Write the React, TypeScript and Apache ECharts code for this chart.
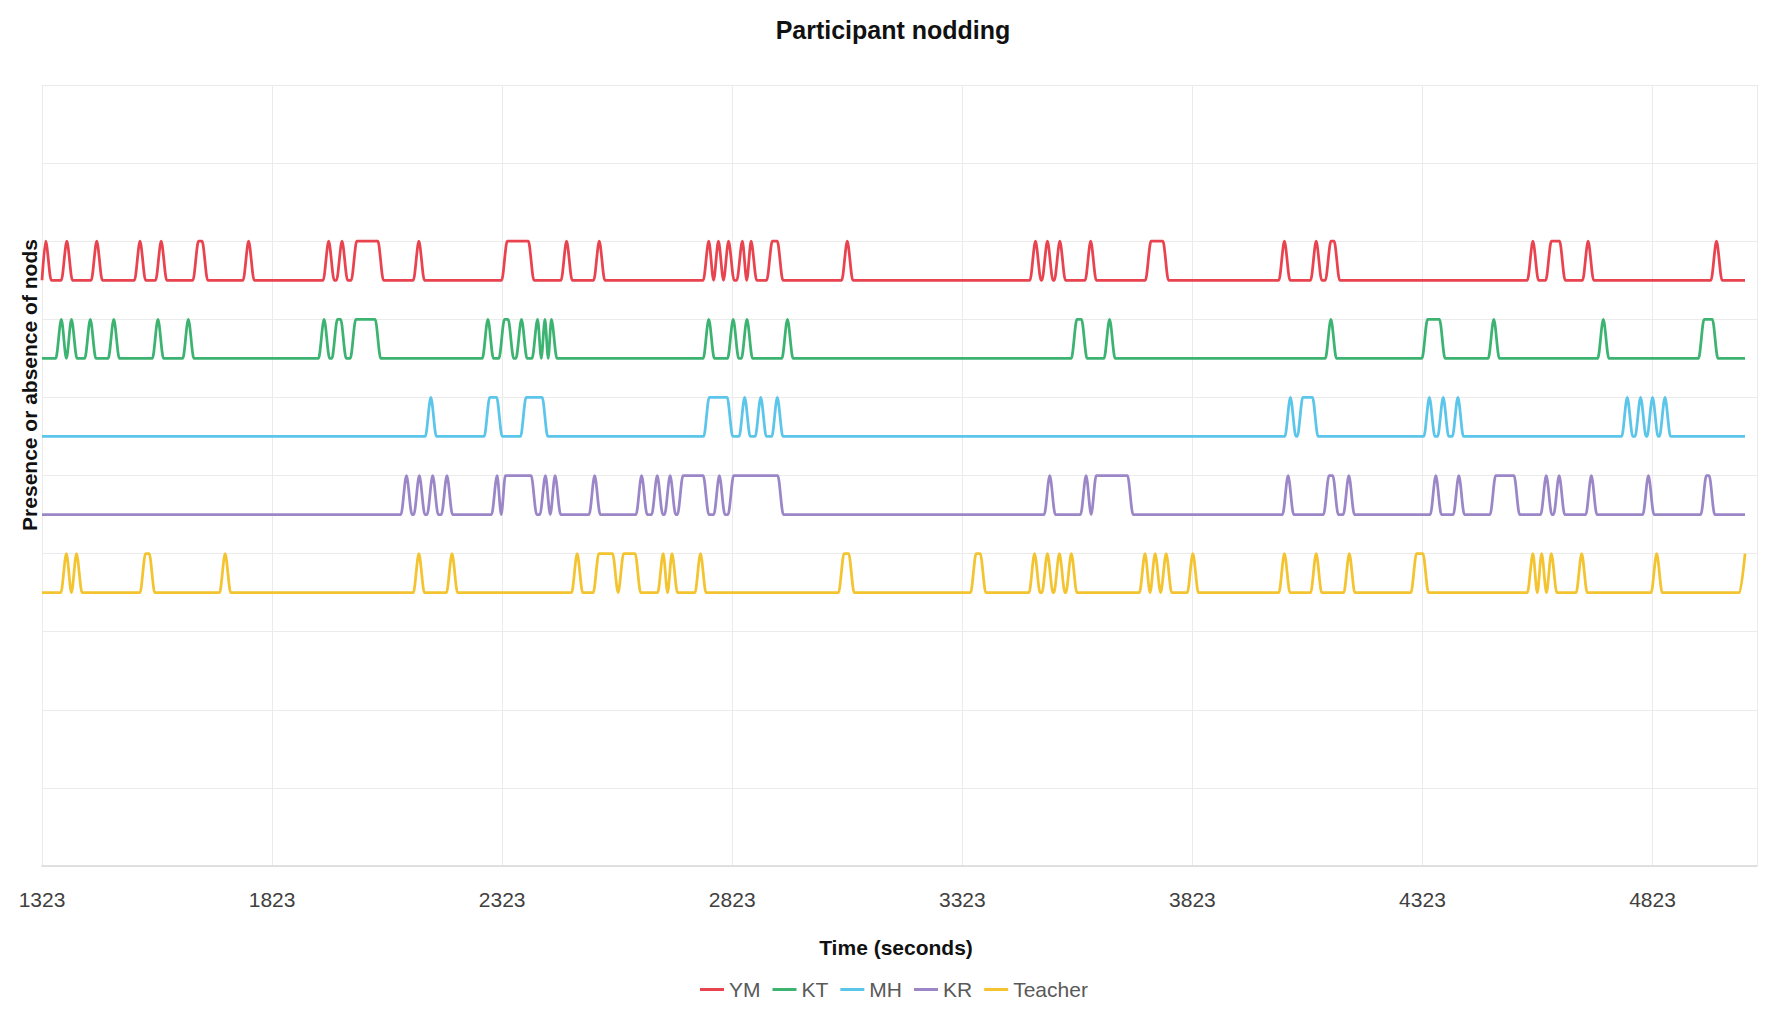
import React, { useEffect, useRef } from "react";
import * as echarts from "echarts";

// ---- data ----
const START = 1323; // first time on the axis (seconds)
const END = 5024; // last recorded time (seconds)
const AXIS_MAX = 5050;
const TICK_STEP = 500;
const tickLabels = ["1323", "1823", "2323", "2823", "3323", "3823", "4323", "4823"];

const seriesNames = ["YM", "KT", "MH", "KR", "Teacher"];
const seriesColors = ["#E8434F", "#3CB371", "#5BC5EA", "#9B86C8", "#F4C430"];
// baseline level of each participant's trace on the (unlabelled) y axis
const baselines = [7.5, 6.5, 5.5, 4.5, 3.5];
const NOD_HEIGHT = 0.5;
const RAMP = 12; // seconds taken by each rise / fall of the trace

// nods: [start, end] of the time (seconds) each trace stays at "nod present"
const ymNods = [
  [1331, 1331], [1377, 1377], [1442, 1442], [1536, 1536], [1582, 1582], [1663, 1671],
  [1772, 1772], [1946, 1946], [1975, 1975], [2007, 2053], [2142, 2142], [2334, 2380],
  [2463, 2463], [2534, 2534], [2772, 2772], [2793, 2793], [2815, 2815], [2845, 2845],
  [2864, 2864], [2910, 2921], [3073, 3073], [3482, 3482], [3508, 3508], [3535, 3535],
  [3602, 3602], [3733, 3759], [4023, 4023], [4092, 4092], [4124, 4131], [4563, 4563],
  [4603, 4621], [4683, 4683], [4962, 4962],
];
const ktNods = [
  [1365, 1365], [1387, 1387], [1428, 1428], [1479, 1479], [1575, 1575], [1641, 1641],
  [1936, 1936], [1965, 1972], [2005, 2047], [2292, 2292], [2328, 2336], [2365, 2365],
  [2400, 2400], [2416, 2416], [2430, 2430], [2772, 2772], [2825, 2825], [2855, 2855],
  [2943, 2943], [3572, 3582], [3643, 3643], [4124, 4124], [4334, 4360], [4478, 4478],
  [4716, 4716], [4935, 4953],
];
const mhNods = [
  [2168, 2168], [2296, 2311], [2375, 2410], [2773, 2812], [2850, 2850], [2885, 2885],
  [2921, 2921], [4036, 4036], [4063, 4084], [4338, 4338], [4368, 4368], [4400, 4400],
  [4768, 4768], [4797, 4797], [4823, 4823], [4850, 4850],
];
const krNods = [
  [2115, 2115], [2143, 2143], [2172, 2172], [2203, 2203], [2312, 2312], [2330, 2386],
  [2417, 2417], [2438, 2438], [2524, 2524], [2626, 2626], [2660, 2660], [2688, 2688],
  [2716, 2760], [2795, 2795], [2826, 2922], [3513, 3513], [3592, 3592], [3614, 3682],
  [4031, 4031], [4120, 4128], [4163, 4163], [4352, 4352], [4402, 4402], [4482, 4522],
  [4592, 4592], [4620, 4620], [4690, 4690], [4814, 4814], [4940, 4946],
];
const teacherNods = [
  [1376, 1376], [1398, 1398], [1548, 1556], [1721, 1721], [2142, 2142], [2214, 2214],
  [2486, 2486], [2533, 2563], [2587, 2612], [2673, 2673], [2692, 2692], [2754, 2754],
  [3066, 3076], [3353, 3362], [3480, 3480], [3508, 3508], [3534, 3534], [3560, 3560],
  [3720, 3720], [3742, 3742], [3766, 3766], [3824, 3824], [4023, 4023], [4092, 4092],
  [4164, 4164], [4310, 4324], [4563, 4563], [4582, 4582], [4603, 4603], [4669, 4669],
  [4832, 4832], [5024, 5024],
];
const allNods = [ymNods, ktNods, mhNods, krNods, teacherNods];

const TITLE = "Participant nodding";
const X_NAME = "Time (seconds)";
const Y_NAME = "Presence or absence of nods";

// ---- build line points (x is shifted so the axis ticks start at START) ----
function buildPoints(nods: number[][], base: number): number[][] {
  const pts: number[][] = [[0, base]];
  let lastFallIdx = -1;
  let lastTopEnd: number | null = null;
  let endedAtTop = false;
  for (const [s, e] of nods) {
    const up = s - RAMP;
    if (lastTopEnd !== null && lastFallIdx >= 0 && up < lastTopEnd + RAMP) {
      pts[lastFallIdx] = [(lastTopEnd + s) / 2 - START, base];
    } else if (up > START) {
      pts.push([up - START, base]);
    }
    pts.push([s - START, base + NOD_HEIGHT]);
    if (e > s) pts.push([e - START, base + NOD_HEIGHT]);
    const down = e + RAMP;
    if (down <= END) {
      pts.push([down - START, base]);
      lastFallIdx = pts.length - 1;
      endedAtTop = false;
    } else {
      lastFallIdx = -1;
      endedAtTop = true;
    }
    lastTopEnd = e;
  }
  if (!endedAtTop) pts.push([END - START, base]);
  return pts;
}

const FONT = '"Liberation Sans", Arial, sans-serif';

export default function App() {
  const ref = useRef<HTMLDivElement>(null);
  useEffect(() => {
    if (!ref.current) return;
    const chart = echarts.init(ref.current, undefined, { renderer: "svg" });
    const option: any = {
      animation: false,
      backgroundColor: "#ffffff",
      grid: { left: 42, right: 14, top: 85, bottom: 148, containLabel: false },
      xAxis: {
        type: "value",
        min: 0,
        max: AXIS_MAX - START,
        interval: TICK_STEP,
        axisLine: { show: true, lineStyle: { color: "#d9d9d9", width: 1.5 } },
        axisTick: { show: false },
        axisLabel: {
          formatter: (v: number) => tickLabels[Math.round(v / TICK_STEP)] ?? "",
          showMaxLabel: false,
          margin: 23,
          fontSize: 21,
          color: "#404040",
          fontFamily: FONT,
        },
        splitLine: { show: true, lineStyle: { color: "#ebebeb", width: 1 } },
      },
      yAxis: {
        type: "value",
        min: 0,
        max: 10,
        interval: 1,
        axisLabel: { show: false },
        axisLine: { show: false },
        axisTick: { show: false },
        splitLine: { show: true, lineStyle: { color: "#ebebeb", width: 1 } },
      },
      legend: {
        data: seriesNames,
        left: 700,
        top: 979,
        padding: 0,
        itemGap: 12,
        itemWidth: 24,
        itemHeight: 3,
        icon: "rect",
        textStyle: { fontSize: 21, color: "#595959", fontFamily: FONT },
      },
      series: seriesNames.map((name, i) => ({
        name,
        type: "line",
        data: buildPoints(allNods[i], baselines[i]),
        symbol: "none",
        smooth: 0.3,
        smoothMonotone: "x",
        lineStyle: { color: seriesColors[i], width: 2.75 },
        itemStyle: { color: seriesColors[i] },
        z: 10 - i,
      })),
      graphic: [
        {
          type: "text",
          x: 893,
          y: 30,
          style: {
            text: TITLE,
            align: "center",
            verticalAlign: "middle",
            textAlign: "center",
            textVerticalAlign: "middle",
            fontSize: 25,
            fontWeight: "bold",
            fontFamily: FONT,
            fill: "#111111",
          },
        },
        {
          type: "text",
          x: 896,
          y: 947,
          style: {
            text: X_NAME,
            align: "center",
            verticalAlign: "middle",
            textAlign: "center",
            textVerticalAlign: "middle",
            fontSize: 21,
            fontWeight: "bold",
            fontFamily: FONT,
            fill: "#111111",
          },
        },
        {
          type: "text",
          x: 29,
          y: 385,
          rotation: Math.PI / 2,
          style: {
            text: Y_NAME,
            align: "center",
            verticalAlign: "middle",
            textAlign: "center",
            textVerticalAlign: "middle",
            fontSize: 21,
            fontWeight: "bold",
            fontFamily: FONT,
            fill: "#111111",
          },
        },
      ],
    };
    chart.setOption(option);
    return () => chart.dispose();
  }, []);
  return (
    <div
      ref={ref}
      style={{ position: "fixed", left: 0, top: 0, width: 1771, height: 1014, background: "#fff" }}
    />
  );
}
